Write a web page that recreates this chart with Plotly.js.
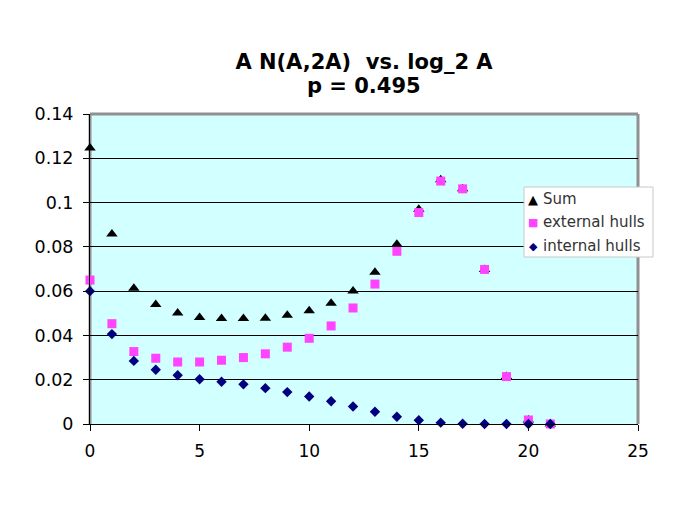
<!DOCTYPE html>
<html>
<head>
<meta charset="utf-8">
<script src="https://cdn.plot.ly/plotly-3.0.1.min.js"></script>
<style>html,body{margin:0;padding:0;background:#fff;}#chart{width:692px;height:517px;}</style>
</head>
<body>
<div id="chart"></div>
<script>
var xValues = [0,1,2,3,4,5,6,7,8,9,10,11,12,13,14,15,16,17,18,19,20,21];
var sumValues = [0.1247,0.0858,0.0613,0.0540,0.0501,0.0481,0.0476,0.0476,0.0478,0.0491,0.0511,0.0545,0.0601,0.0685,0.0812,0.0970,0.1103,0.1062,0.0698,0.0214,0.0018,0.0000];
var externalValues = [0.0650,0.0453,0.0327,0.0297,0.0280,0.0280,0.0288,0.0300,0.0317,0.0347,0.0387,0.0443,0.0524,0.0632,0.0780,0.0955,0.1097,0.1062,0.0698,0.0214,0.0018,0.0000];
var internalValues = [0.0600,0.0406,0.0285,0.0245,0.0220,0.0202,0.0191,0.0179,0.0162,0.0144,0.0124,0.0103,0.0079,0.0055,0.0033,0.0017,0.0006,0.0001,0.0000,0.0000,0.0000,0.0000];
var seriesNames = ["Sum", "external hulls", "internal hulls"];
var seriesColors = ["#000000", "#FF44FF", "#000080"];
var legendGlyphs = ["\u25B2", "\u25A0", "\u25C6"];
var xTicks = [0,5,10,15,20,25];
var yTicks = [0,0.02,0.04,0.06,0.08,0.1,0.12,0.14];
var yTickLabels = ["0","0.02","0.04","0.06","0.08","0.1","0.12","0.14"];
var titleLine1 = "A N(A,2A)\u00a0\u00a0vs. log_2 A";
var titleLine2 = "p = 0.495";

var font = "DejaVu Sans, Verdana, sans-serif";

var traces = [
  {x: xValues, y: sumValues, name: seriesNames[0], type: "scatter", mode: "markers", cliponaxis: false,
   marker: {symbol: "triangle-up", size: 10, color: seriesColors[0]}},
  {x: xValues, y: externalValues, name: seriesNames[1], type: "scatter", mode: "markers", cliponaxis: false,
   marker: {symbol: "square", size: 9, color: seriesColors[1]}},
  {x: xValues, y: internalValues, name: seriesNames[2], type: "scatter", mode: "markers", cliponaxis: false,
   marker: {symbol: "diamond", size: 8, color: seriesColors[2]}}
];

// plot area in pixels: left 90, right 638, top 114, bottom 424
function px2x(p) { return (p - 90) / 548; }
function px2y(p) { return (424 - p) / 310; }

var annotations = [];
var legendRows = [199, 222, 246];
for (var i = 0; i < seriesNames.length; i++) {
  annotations.push({xref: "paper", yref: "paper", x: px2x(533), y: px2y(legendRows[i]), xanchor: "center", yanchor: "middle",
    text: legendGlyphs[i], showarrow: false, font: {family: font, size: i === 0 ? 13 : 11, color: seriesColors[i]}});
  annotations.push({xref: "paper", yref: "paper", x: px2x(541), y: px2y(legendRows[i]), xanchor: "left", yanchor: "middle",
    text: seriesNames[i], showarrow: false, font: {family: font, size: 15, color: "#333333"}});
}
annotations.push({xref: "paper", yref: "paper", x: 0.5, y: px2y(86), xanchor: "center", yanchor: "middle",
  text: "<b>" + titleLine2 + "</b>", showarrow: false, font: {family: font, size: 21, color: "#000000"}});

var layout = {
  width: 692, height: 517,
  margin: {l: 90, r: 54, t: 114, b: 93},
  paper_bgcolor: "#ffffff",
  plot_bgcolor: "#D2FFFF",
  font: {family: font, size: 17, color: "#000000"},
  title: {text: "<b>" + titleLine1 + "</b>", x: 0.5, xref: "paper", xanchor: "center",
          y: 1 - 62 / 517, yanchor: "middle", yref: "container", font: {family: font, size: 21, color: "#000000"}},
  showlegend: false,
  xaxis: {range: [0, 25], tickvals: xTicks, ticktext: xTicks.map(String), showgrid: false, zeroline: false,
          showline: true, linecolor: "#000000", linewidth: 1, ticks: "outside", ticklen: 6, tickcolor: "#000000",
          ticklabelstandoff: 6, fixedrange: true},
  yaxis: {range: [0, 0.14], tickvals: yTicks, ticktext: yTickLabels, showgrid: true, gridcolor: "#000000", gridwidth: 1,
          zeroline: false, showline: true, linecolor: "#000000", linewidth: 1, ticks: "outside", ticklen: 6,
          tickcolor: "#000000", ticklabelstandoff: 6, fixedrange: true, tickfont: {family: font, size: 17.5}},
  shapes: [
    {type: "line", xref: "paper", yref: "paper", x0: 0, x1: 1, y0: 1, y1: 1, line: {color: "#909090", width: 3}, layer: "below"},
    {type: "line", xref: "paper", yref: "paper", x0: 1, x1: 1, y0: 0, y1: 1, line: {color: "#909090", width: 3}, layer: "below"},
    {type: "line", xref: "paper", yref: "paper", x0: 0, x1: 0, y0: 0, y1: 1, line: {color: "#909090", width: 3}, layer: "below"},
    {type: "rect", xref: "paper", yref: "paper", x0: px2x(524), x1: px2x(653), y0: px2y(257), y1: px2y(187),
     fillcolor: "#ffffff", line: {color: "#C8C8C8", width: 1}, layer: "above"}
  ],
  annotations: annotations
};

Plotly.newPlot("chart", traces, layout, {displayModeBar: false, staticPlot: true});
</script>
</body>
</html>
